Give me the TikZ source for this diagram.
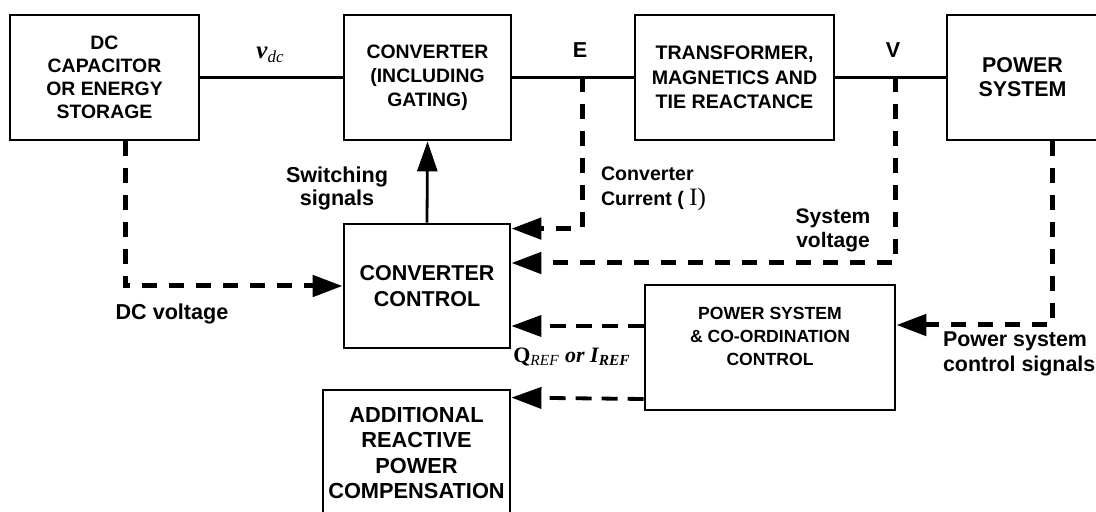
\documentclass[tikz,border=0pt]{standalone}
\usepackage{fontspec}
\setmainfont{Liberation Sans}
\newfontfamily\timesfont{Liberation Serif}
\usepackage{tikz}
\usetikzlibrary{arrows.meta}

\newcommand{\boxfont}[2]{\bfseries\fontsize{#1}{#2}\selectfont}

\tikzset{
    block/.style={draw, line width=1.4pt, inner sep=0pt, align=center},
    sigtext/.style={align=center, font=\boxfont{10.8}{12.4}},
    heavydash/.style={line width=2.5pt, dash pattern=on 7.5pt off 6pt,
        -{Triangle[length=15pt, width=10.5pt]}},
    lightdash/.style={line width=1.9pt, dash pattern=on 8pt off 5pt,
        -{Triangle[length=15pt, width=10.5pt]}},
    solidarrow/.style={line width=1.4pt, -{Triangle[length=15pt, width=10pt]}}
}

\begin{document}
\begin{tikzpicture}[x=0.5pt, y=-0.5pt]
    \useasboundingbox (0,0) rectangle (1096,512);

    % Power circuit
    \node[block, minimum width=94.5pt, minimum height=62.5pt, font=\boxfont{9.7}{11.6}]
        (dc) at (104.5,77.5) {DC\\CAPACITOR\\OR ENERGY\\STORAGE};
    \node[block, minimum width=83.5pt, minimum height=62.5pt, font=\boxfont{9.7}{12}]
        (conv) at (427.5,77.5) {CONVERTER\\(INCLUDING\\GATING)};
    \node[block, minimum width=99.5pt, minimum height=62.5pt, font=\boxfont{9.8}{12.2}]
        (tr) at (734.5,77.5) {TRANSFORMER,\\MAGNETICS AND\\TIE REACTANCE};
    \node[block, minimum width=75.5pt, minimum height=62.5pt, font=\boxfont{10.7}{12}]
        (ps) at (1022.5,77.5) {POWER\\SYSTEM};
    \coordinate (E) at (582,77.5);
    \coordinate (V) at (895,77.5);
    \draw[line width=1.4pt] (dc.east) -- (conv.west) (conv.east) -- (tr.west) (tr.east) -- (ps.west);

    \node (vdclab) at (270,55) {\timesfont\itshape\fontsize{12.5}{12.5}\selectfont\textbf{v}\raisebox{-0.35ex}{\fontsize{8.5}{8.5}\selectfont dc}};
    \node[sigtext] (elab) at (580,50) {E};
    \node[sigtext] (vlab) at (893,50) {V};

    % Control blocks
    \node[block, minimum width=83pt, minimum height=62pt, font=\boxfont{10.75}{12.8}]
        (ctrl) at (427,286) {CONVERTER\\CONTROL};
    \node[block, minimum width=125pt, minimum height=62.5pt, font=\boxfont{8.8}{11.5}]
        (psc) at (770,347.5) {POWER SYSTEM\\\& CO-ORDINATION\\CONTROL\\\mbox{}};
    \node[block, minimum width=93.5pt, minimum height=63pt, font=\boxfont{10.9}{12.7}]
        (add) at (416.5,453) {ADDITIONAL\\REACTIVE\\POWER\\COMPENSATION};

    % Signals
    \draw[solidarrow] (ctrl.north) -- (conv.south);
    \draw[heavydash] ([xshift=10.25pt]dc.south) |- (ctrl.west);
    \draw[heavydash] (E) |- ([yshift=-3pt]ctrl.north east);
    \draw[heavydash] (V) |- ([yshift=11.5pt]ctrl.east);
    \draw[heavydash] ([xshift=14.75pt]ps.south) |- ([yshift=11.25pt]psc.east);
    \draw[lightdash] ([yshift=10.75pt]psc.west) -- ([yshift=-20pt]ctrl.east);
    \draw[lightdash] ([yshift=-25.75pt]psc.west) -- ([yshift=-4.5pt]add.north east);

    \node[sigtext, font=\boxfont{10.8}{11.5}] (swlab) at (337,188) {Switching\\signals};
    \node[sigtext, font=\boxfont{9.8}{12.5}, align=left, anchor=west] (curlab) at (594,189)
        {Converter\\ Current ( {\timesfont\mdseries\fontsize{12.5}{12.5}\selectfont I)}};
    \node[sigtext, font=\boxfont{10.5}{12}] (svlab) at (833,230) {System\\voltage};
    \node[sigtext] (dcvlab) at (172,314) {DC voltage};
    \node[sigtext, font=\boxfont{10.7}{12.5}, align=left, anchor=west] (pslab) at (936,354)
        {Power system\\control signals};
    \node (reflab) at (572,357) {\timesfont\bfseries\fontsize{11}{11}\selectfont
        Q\textsubscript{\mdseries\itshape REF} \itshape or I\textsubscript{REF}};
\end{tikzpicture}
\end{document}
